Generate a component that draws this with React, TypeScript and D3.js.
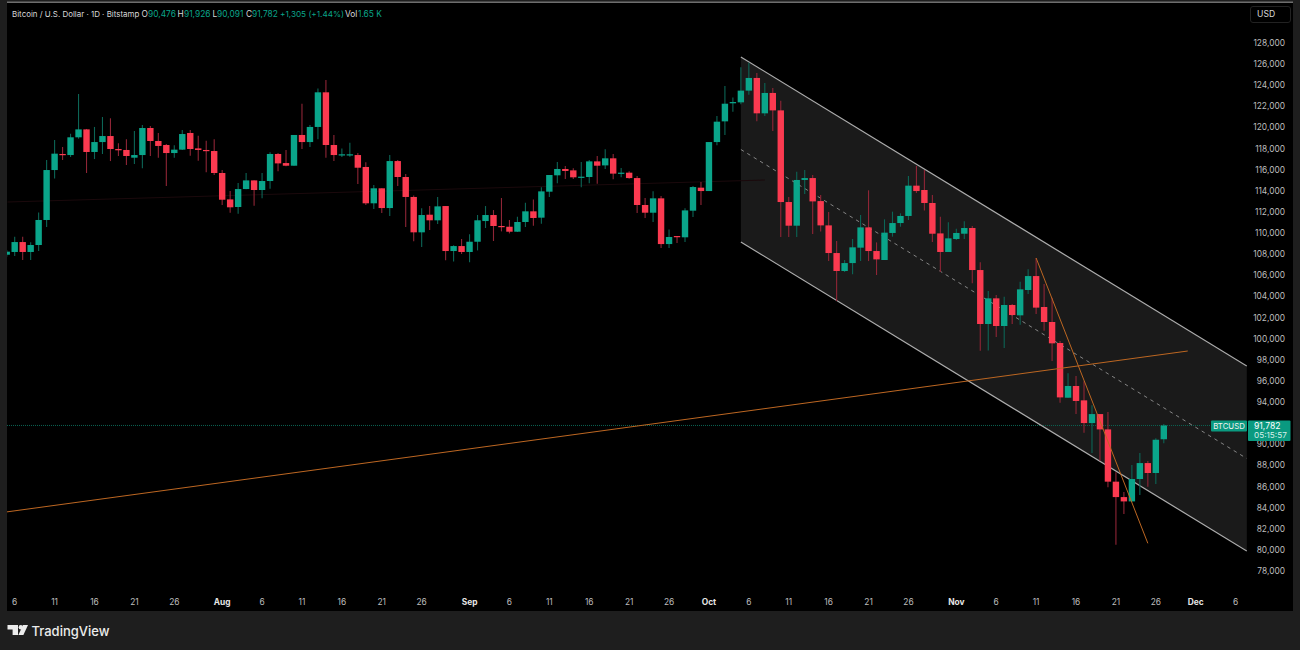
import * as d3 from "d3";

// daily candles, first one is 5 Jul, last one is 27 Nov
const opens = [
  107950, 108210, 109150, 108210, 108870, 111240, 115970, 117490, 117390, 119070,
  119820, 117680, 118620, 119190, 117960, 117870, 117140, 117390, 119950, 118720,
  118340, 117580, 117900, 119480, 118020, 117870, 117770, 115690, 113190, 112470,
  114170, 114990, 114080, 114930, 117490, 116630, 116380, 119290, 118620, 120050,
  123330, 118340, 117360, 117390, 117390, 116260, 112820, 114240, 112370, 116820,
  115310, 113420, 110070, 111740, 111210, 112560, 108300, 108770, 108210, 109180,
  111140, 111710, 110670, 110600, 110130, 111050, 112060, 111460, 113920, 115470,
  116070, 115940, 115250, 115310, 116790, 116410, 117080, 115630, 115720, 115210,
  112660, 111930, 113290, 108960, 109720, 109600, 112120, 114300, 113980, 118620,
  120580, 122290, 122380, 123490, 124690, 121340, 123270, 121620, 112940, 110700,
  115030, 115210, 113030, 110730, 108110, 106410, 107160, 108620, 110540, 108300,
  107450, 110010, 110950, 111620, 114490, 114080, 112850, 109970, 108210, 109440,
  109940, 110480, 106500, 101390, 103820, 101200, 103190, 102210, 104610, 105930,
  103000, 101580, 99590, 94410, 95520, 94160, 92010, 92860, 91410, 86460,
  85000, 84590, 86710, 88220, 87280, 90476,
];
const highs = [
  108400, 109660, 109660, 109120, 111960, 116920, 118810, 118150, 119410, 123170,
  119860, 120050, 120990, 120870, 118500, 118880, 119670, 120230, 120140, 119480,
  118440, 118310, 119760, 119760, 119220, 118750, 118880, 115970, 113980, 114740,
  115690, 115000, 115690, 117650, 117580, 117870, 119290, 122250, 120230, 123680,
  124500, 119290, 118020, 118560, 117580, 116700, 114550, 114240, 117390, 116920,
  115590, 113570, 112340, 112560, 113420, 112560, 108840, 109440, 109880, 111710,
  112560, 112180, 113320, 111240, 111550, 112880, 113190, 114330, 115500, 116730,
  116350, 116130, 116730, 116920, 117300, 117930, 117490, 116160, 115850, 115400,
  113320, 113950, 113510, 110350, 109720, 112340, 114460, 114840, 118620, 121090,
  123930, 122850, 125700, 126140, 125160, 124210, 123740, 122540, 113420, 115810,
  115970, 115500, 113600, 111990, 109250, 107450, 109440, 111710, 114050, 109120,
  111300, 112030, 111870, 115400, 116350, 115970, 113600, 111550, 111020, 110420,
  111110, 110670, 107230, 104510, 104140, 103980, 103280, 105400, 106570, 107640,
  105180, 103880, 99780, 96720, 96460, 95960, 93690, 92870, 93050, 87340,
  85480, 88030, 89170, 88410, 90560, 91926,
];
const lows = [
  107760, 107830, 107450, 107450, 108300, 110570, 115180, 116920, 117200, 118940,
  115690, 117010, 117490, 116820, 117300, 116450, 116540, 116130, 117300, 117140,
  114460, 117140, 117870, 117330, 116860, 115750, 115500, 112660, 111930, 111840,
  114140, 112590, 113290, 114200, 115850, 116320, 116380, 117960, 118150, 118880,
  117140, 116820, 117200, 117240, 114650, 112660, 112280, 111900, 111620, 114460,
  110570, 109220, 108680, 110290, 110860, 107420, 107320, 108020, 107230, 108360,
  110480, 109250, 110160, 109970, 110100, 110570, 110700, 110890, 113420, 114710,
  115120, 115120, 114330, 114710, 114680, 116070, 115090, 115280, 115150, 111900,
  111430, 111050, 108580, 108580, 109060, 109150, 111520, 112660, 113980, 118310,
  119290, 121500, 122190, 123110, 120580, 121090, 119670, 109630, 109630, 109630,
  113700, 109910, 110160, 107350, 103570, 106310, 106090, 107350, 107350, 106030,
  107450, 109660, 110600, 111240, 113790, 112150, 109150, 106310, 108210, 109340,
  109440, 105240, 98860, 98890, 100160, 99120, 101390, 101330, 104230, 102340,
  100760, 97880, 93940, 94410, 92860, 91100, 89170, 88450, 85920, 80490,
  83390, 84590, 85190, 85980, 86240, 90091,
];
const closes = [
  108240, 109150, 108210, 108870, 111240, 115970, 117520, 117390, 119070, 119820,
  117680, 118620, 119190, 117960, 117840, 117300, 117390, 119950, 118720, 118250,
  117580, 117900, 119380, 117960, 117870, 117770, 115690, 113160, 112440, 114170,
  114990, 114080, 114930, 117490, 116600, 116380, 119290, 118620, 120050, 123330,
  118340, 117390, 117460, 117460, 116190, 112820, 114240, 112370, 116820, 115310,
  113420, 110070, 111710, 111210, 112530, 108300, 108770, 108210, 109180, 111210,
  111710, 110670, 110570, 110130, 111050, 112060, 111430, 113950, 115500, 116070,
  115880, 115280, 115340, 116790, 116380, 117080, 115630, 115720, 115210, 112660,
  111930, 113290, 108960, 109630, 109630, 112150, 114360, 113980, 118620, 120550,
  122250, 122410, 123490, 124690, 121340, 123270, 121620, 112940, 110700, 115030,
  115210, 113000, 110730, 108110, 106410, 107160, 108650, 110540, 108300, 107510,
  110040, 110950, 111620, 114490, 113980, 112850, 109940, 108210, 109500, 110010,
  110480, 106500, 101390, 103820, 101200, 103190, 102240, 104670, 105930, 102940,
  101580, 99560, 94440, 95520, 94100, 92010, 92860, 91410, 86460, 85000,
  84590, 86710, 88220, 87280, 90430, 91782,
];

// 92,000 sits behind the last price tag in the picture, so it is left out
const priceTicks = [
  128000, 126000, 124000, 122000, 120000, 118000, 116000, 114000, 112000, 110000, 108000, 106000, 104000,
  102000, 100000, 98000, 96000, 94000, 90000, 88000, 86000, 84000, 82000, 80000, 78000,
];
const lastPrice = 91782;

// day numbers count from 6 Jul = 0
const timeTickDays = [0, 5, 10, 15, 20, 26, 31, 36, 41, 46, 51, 57, 62, 67, 72, 77, 82, 87, 92, 97, 102, 107, 112, 118, 123, 128, 133, 138, 143, 148, 153];
const timeTickLabels = ["6", "11", "16", "21", "26", "Aug", "6", "11", "16", "21", "26", "Sep", "6", "11", "16", "21", "26", "Oct", "6", "11", "16", "21", "26", "Nov", "6", "11", "16", "21", "26", "Dec", "6"];

// drawings as [day, price] pairs
const channelTop: [number, number][] = [[91, 126674], [154.4, 97412]];
const channelMid: [number, number][] = [[91, 117915], [154.4, 88652]];
const channelBottom: [number, number][] = [[91, 109155], [154.4, 79892]];
const longTrend: [number, number][] = [[-1.1, 83586], [147, 98832]];
const steepTrend: [number, number][] = [[128, 107640], [142, 80622]];
const faintRay: [number, number][] = [[-0.9, 112943], [94, 115026]];

const UP = "#0aa58a";
const DOWN = "#fb3a50";
const UP_WICK = "#0c6556";
const DOWN_WICK = "#8f2536";
const FRAME = "#1e1e1e";
const FONT = "Inter, Roboto, sans-serif";

const x = d3.scaleLinear().domain([0, 144]).range([14.7, 1163.8]);
const y = d3.scaleLinear().domain([78000, 128000]).range([571, 43]);
const line = d3
  .line<[number, number]>()
  .x((d) => x(d[0]))
  .y((d) => y(d[1]));
const fmt = d3.format(",");

const channelArea = d3
  .area<number>()
  .x((_, i) => x(channelTop[i][0]))
  .y0((_, i) => y(channelBottom[i][1]))
  .y1((_, i) => y(channelTop[i][1]));

const header = [
  { t: "Bitcoin / U.S. Dollar · 1D · Bitstamp", x: 12, c: "#d8d8d8", s: 7.95 },
  { t: "O", x: 141.5, c: "#d8d8d8", s: 8.4 },
  { t: "90,476", x: 148, c: UP, s: 8.4 },
  { t: "H", x: 177.5, c: "#d8d8d8", s: 8.4 },
  { t: "91,926", x: 184, c: UP, s: 8.4 },
  { t: "L", x: 212.5, c: "#d8d8d8", s: 8.4 },
  { t: "90,091", x: 217, c: UP, s: 8.4 },
  { t: "C", x: 246, c: "#d8d8d8", s: 8.4 },
  { t: "91,782", x: 252, c: UP, s: 8.4 },
  { t: "+1,305 (+1.44%)", x: 280, c: UP, s: 8.2 },
  { t: "Vol", x: 345, c: "#d8d8d8", s: 8.4 },
  { t: "1.65 K", x: 358, c: UP, s: 8.4 },
];

export default function App() {
  return (
    <svg width={1300} height={650} style={{ position: "absolute", left: 0, top: 0 }} fontFamily={FONT}>
      <defs>
        <clipPath id="pane">
          <rect x={7} y={3} width={1240} height={608} />
        </clipPath>
      </defs>
      <rect width={1300} height={650} fill={FRAME} />
      <rect x={7} y={3} width={1286} height={608} fill="#000" />
      <rect x={7} y={1.5} width={1286} height={1.5} fill="#6e6e6e" />

      <g clipPath="url(#pane)">
        <path d={channelArea([0, 1]) ?? ""} fill="#1a1a1a" />
        <path d={line(faintRay) ?? ""} stroke="#1b090c" strokeWidth={1} fill="none" />
        <line x1={7} x2={1247} y1={y(lastPrice)} y2={y(lastPrice)} stroke="#0a6453" strokeWidth={1} strokeDasharray="1 1" />
        <path d={line(channelMid) ?? ""} stroke="#858585" strokeWidth={1} strokeDasharray="3.5 4" fill="none" />
        <path d={line(channelTop) ?? ""} stroke="#adadad" strokeWidth={1.2} fill="none" />
        <path d={line(channelBottom) ?? ""} stroke="#adadad" strokeWidth={1.2} fill="none" />

        {opens.map((o, i) => {
          const c = closes[i];
          const up = c >= o;
          const day = i - 1;
          const top = y(Math.max(o, c));
          const h = Math.max(y(Math.min(o, c)) - top, 1.2);
          return (
            <g key={i}>
              <line x1={x(day)} x2={x(day)} y1={y(highs[i])} y2={y(lows[i])} stroke={up ? UP_WICK : DOWN_WICK} strokeWidth={1.1} />
              <rect x={x(day) - 3.2} y={top} width={6.4} height={h} fill={up ? UP : DOWN} />
            </g>
          );
        })}

        <path d={line(longTrend) ?? ""} stroke="#bd6722" strokeWidth={1} fill="none" />
        <path d={line(steepTrend) ?? ""} stroke="#bd6722" strokeWidth={1} fill="none" />
      </g>

      {header.map((h, i) => (
        <text key={i} x={h.x} y={16.5} fontSize={h.s} fill={h.c}>
          {h.t}
        </text>
      ))}

      <rect x={1250.5} y={6.5} width={40} height={16} rx={2.5} fill="#000" stroke="#222" />
      <text x={1257} y={17.3} fontSize={8.6} fill="#d8d8d8">
        USD
      </text>

      {priceTicks.map((p) => (
        <text key={p} x={1285} y={y(p) + 3} fontSize={8.4} textAnchor="end" fill="#bdbdbd">
          {fmt(p)}
        </text>
      ))}

      {timeTickDays.map((d, i) => {
        const month = isNaN(+timeTickLabels[i]);
        return (
          <text key={i} x={x(d)} y={605} fontSize={8.4} textAnchor="middle" fontWeight={month ? 700 : 400} fill={month ? "#e6e6e6" : "#bdbdbd"}>
            {timeTickLabels[i]}
          </text>
        );
      })}

      <rect x={1211} y={420.5} width={36} height={11} rx={1} fill="#0a9a80" />
      <text x={1229} y={429} fontSize={7.8} textAnchor="middle" fill="#f0f0f0">
        BTCUSD
      </text>
      <rect x={1248} y={420.5} width={42.5} height={20.5} rx={1} fill="#0a9a80" />
      <text x={1254} y={429} fontSize={8.6} fill="#ffffff">
        {fmt(lastPrice)}
      </text>
      <text x={1254} y={438.3} fontSize={8.2} fill="#d6efe9">
        05:15:57
      </text>

      <g fill="#ececec">
        <path d="M7.5 625H18V635H12.6V629.4H7.5Z" />
        <circle cx={20.8} cy={627.2} r={2.2} />
        <path d="M23 625H28L23.4 635H18.4Z" />
      </g>
      <text x={31.5} y={636} fontSize={13} fontWeight={500} fill="#ececec">
        TradingView
      </text>
    </svg>
  );
}
